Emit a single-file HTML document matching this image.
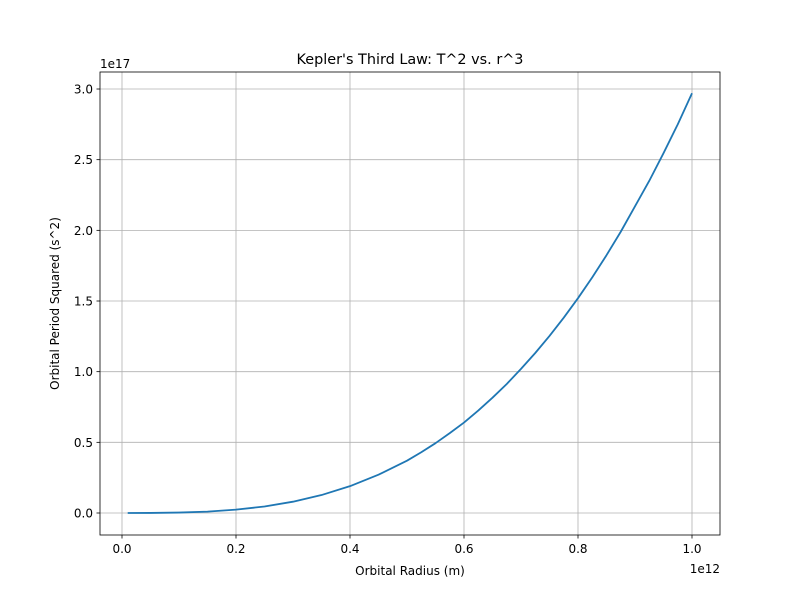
<!DOCTYPE html>
<html><head><meta charset="utf-8"><style>
body{margin:0;background:#fff;}
svg text{font-family:"DejaVu Sans","Liberation Sans",sans-serif;fill:#000;}
</style></head><body>
<svg id="chart" width="800" height="600" xmlns="http://www.w3.org/2000/svg">
<rect width="800" height="600" fill="#fff"/>
<g id="grid"></g>
<g id="ticks"></g>
<path id="curve" fill="none" stroke="#1f77b4" stroke-width="1.8" stroke-linejoin="round"/>
<rect x="100" y="72" width="620" height="463" fill="none" stroke="#000" stroke-width="0.8"/>
<text x="410" y="64" font-size="14.4" text-anchor="middle">Kepler's Third Law: T^2 vs. r^3</text>
<text x="410" y="575" font-size="12" text-anchor="middle">Orbital Radius (m)</text>
<text transform="translate(59,303.5) rotate(-90)" font-size="12" text-anchor="middle">Orbital Period Squared (s^2)</text>
<text x="100" y="68" font-size="12">1e17</text>
<text x="720" y="573" font-size="12" text-anchor="end">1e12</text>
</svg>
<script>
const xTicks=[0,0.2,0.4,0.6,0.8,1.0];
const xTickLabels=["0.0","0.2","0.4","0.6","0.8","1.0"];
const yTicks=[0,0.5,1.0,1.5,2.0,2.5,3.0];
const yTickLabels=["0.0","0.5","1.0","1.5","2.0","2.5","3.0"];
const radii=[0.01,0.05,0.1,0.15,0.2,0.25,0.3,0.35,0.4,0.45,0.5,0.525,0.55,0.575,0.6,0.625,0.65,0.675,0.7,0.725,0.75,0.775,0.8,0.825,0.85,0.875,0.9,0.925,0.95,0.975,1.0];
const periodSq=[0,0.0004,0.003,0.010,0.024,0.046,0.080,0.127,0.19,0.271,0.37,0.43,0.494,0.565,0.64,0.725,0.816,0.913,1.02,1.132,1.253,1.382,1.52,1.667,1.824,1.99,2.17,2.35,2.546,2.75,2.97];
const X=v=>122+v*570, Y=v=>513-v*141.33;
const NS="http://www.w3.org/2000/svg";
const grid=document.getElementById('grid'), ticks=document.getElementById('ticks');
function mk(tag,attrs,parent){const e=document.createElementNS(NS,tag);for(const k in attrs)e.setAttribute(k,attrs[k]);parent.appendChild(e);return e;}
xTicks.forEach((v,i)=>{
  const g=mk('line',{x1:X(v),x2:X(v),y1:72,y2:535,stroke:'#b0b0b0','stroke-width':0.8},grid);
  
  
  mk('line',{x1:X(v),x2:X(v),y1:535,y2:538.5,stroke:'#000','stroke-width':0.8},ticks);
  const t=mk('text',{x:X(v),y:553,'font-size':12,'text-anchor':'middle'},ticks);
  t.textContent=xTickLabels[i];
  
  
});
yTicks.forEach((v,i)=>{
  const g=mk('line',{x1:100,x2:720,y1:Y(v),y2:Y(v),stroke:'#b0b0b0','stroke-width':0.8},grid);
  
  
  mk('line',{x1:96.5,x2:100,y1:Y(v),y2:Y(v),stroke:'#000','stroke-width':0.8},ticks);
  const t=mk('text',{x:93,y:Y(v)+4.5,'font-size':12,'text-anchor':'end'},ticks);
  t.textContent=yTickLabels[i];
  
  
});
document.getElementById('curve').setAttribute('d',radii.map((r,i)=>(i?'L':'M')+X(r).toFixed(2)+','+Y(periodSq[i]).toFixed(2)).join(''));
</script>
</body></html>
